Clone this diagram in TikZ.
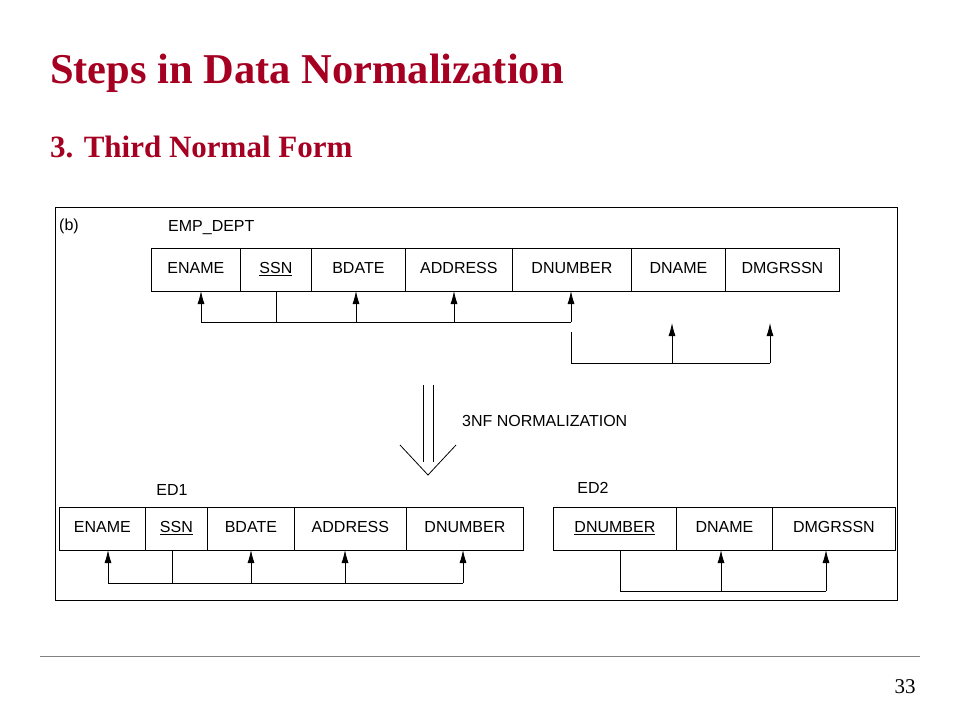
\documentclass[tikz,border=0pt]{standalone}
\usepackage{fontspec}
\setmainfont{Liberation Serif}
\newfontfamily\dia{Liberation Sans}
\usetikzlibrary{arrows.meta}
\definecolor{titlered}{HTML}{A50021}
\begin{document}
\begin{tikzpicture}[x=1pt,y=-1pt,
  cell/.style={draw,line width=0.8pt,minimum height=43pt,inner sep=0pt,text height=11pt,text depth=3pt,font=\dia\fontsize{16}{16}\selectfont},
  lbl/.style={font=\dia\fontsize{16}{16}\selectfont,inner sep=0pt},
  ln/.style={line width=0.8pt},
  arr/.style={line width=0.8pt,-{Latex[length=13pt,width=7pt]}}]
\useasboundingbox (0,0) rectangle (960,720);
\node[anchor=west,font=\bfseries\fontsize{42.5}{42.5}\selectfont,text=titlered,inner sep=0pt] (title) at (50,73) {Steps in Data Normalization};
\node[anchor=west,font=\bfseries\fontsize{31}{31}\selectfont,text=titlered,inner sep=0pt] (sub) at (50,147) {3. Third Normal Form};
\node[draw,line width=0.8pt,minimum width=842pt,minimum height=393pt,inner sep=0pt] (frame) at (476,403.5) {};
\node[lbl] (b) at (69,226) {(b)};
\node[lbl,anchor=west] (emp) at (168,228) {EMP\_DEPT};
% top table
\foreach \n/\a/\b/\t in {t1/151/240/ENAME,t2/240/311/\underline{SSN},t3/311/405/BDATE,t4/405/512/ADDRESS,t5/512/631/DNUMBER,t6/631/725/DNAME,t7/725/839/DMGRSSN}{
  \node[cell,minimum width={\b-\a},anchor=north west] (\n) at (\a,248) {\t};}
\coordinate (h1) at (201,322); \coordinate (h2) at (571,322);
\draw[ln] (276,291) -- (276,322);
\draw[ln] (h1) -- (h2);
\foreach \x in {201,356,454,571}{\draw[arr] (\x,322) -- (\x,291);}
\draw[ln] (571,332) -- (571,363) -- (770,363);
\foreach \x in {672,770}{\draw[arr] (\x,363) -- (\x,323);}
% big arrow
\draw[ln] (423,385) -- (423,462);
\draw[ln] (433,385) -- (433,462);
\draw[ln] (400,445) -- (428,475) -- (456,445);
\node[lbl,anchor=west] (nf) at (462,421) {3NF NORMALIZATION};
% ED1
\node[lbl] (ed1) at (172,490) {ED1};
\foreach \n/\a/\b/\t in {e1/59/145/ENAME,e2/145/207/\underline{SSN},e3/207/294/BDATE,e4/294/406/ADDRESS,e5/406/523/DNUMBER}{
  \node[cell,minimum width={\b-\a},anchor=north west] (\n) at (\a,507) {\t};}
\draw[ln] (172,550) -- (172,583);
\draw[ln] (108,583) -- (463,583);
\foreach \x in {108,251,345,463}{\draw[arr] (\x,583) -- (\x,550);}
% ED2
\node[lbl] (ed2) at (593,488) {ED2};
\foreach \n/\a/\b/\t in {d1/553/676/\underline{DNUMBER},d2/676/772/DNAME,d3/772/895/DMGRSSN}{
  \node[cell,minimum width={\b-\a},anchor=north west] (\n) at (\a,507) {\t};}
\draw[ln] (620,550) -- (620,591) -- (826,591);
\foreach \x in {721,826}{\draw[arr] (\x,591) -- (\x,550);}
% footer
\draw[line width=0.8pt,gray] (40,656) -- (920,656);
\node[font=\fontsize{21}{21}\selectfont,inner sep=0pt] (pg) at (905,687) {33};
\end{tikzpicture}
\end{document}
